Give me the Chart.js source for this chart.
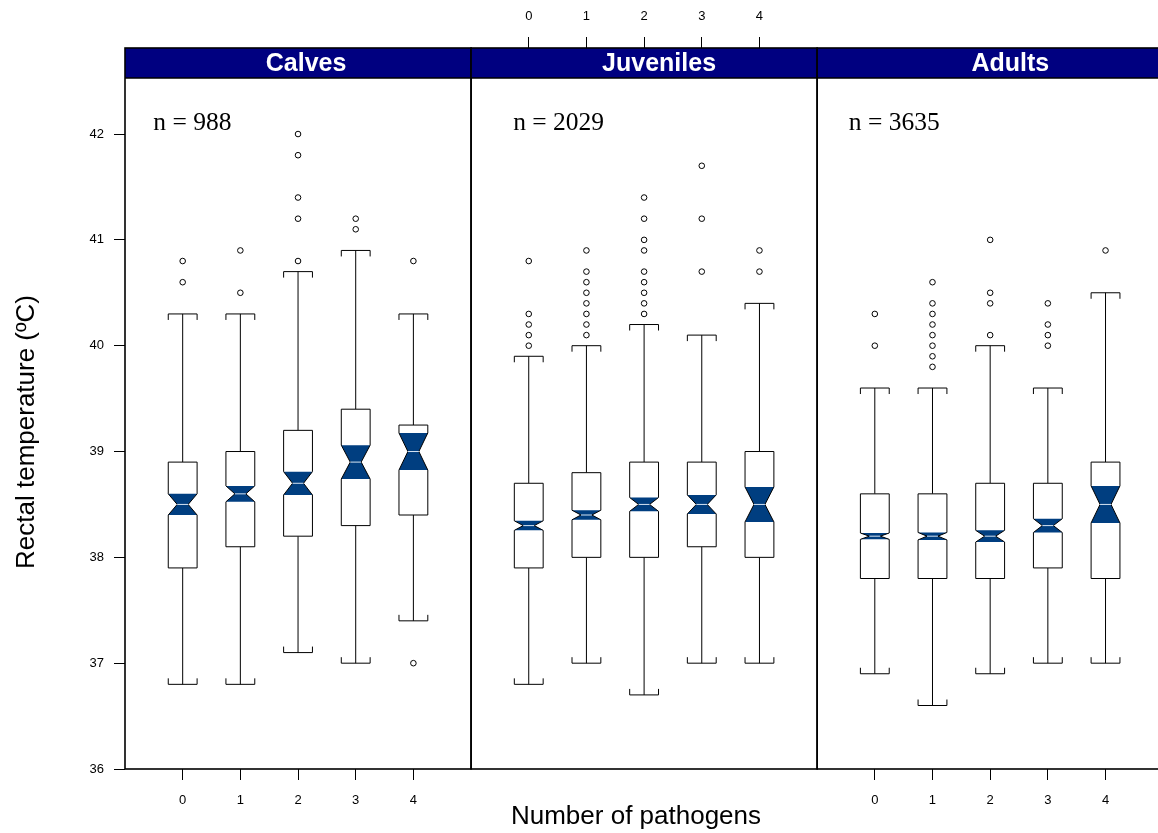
<!DOCTYPE html>
<html>
<head>
<meta charset="utf-8">
<title>Rectal temperature by number of pathogens</title>
<script src="https://cdn.jsdelivr.net/npm/chart.js@4.4.1/dist/chart.umd.min.js"></script>
<style>
  html, body { margin: 0; padding: 0; background: #fff; overflow: hidden; }
  #wrap { position: relative; width: 1167px; height: 833px; }
</style>
</head>
<body>
<div id="wrap"><canvas id="myChart" width="1167" height="833"></canvas></div>
<script>
var categories = ['0', '1', '2', '3', '4'];
var groups = ['Calves', 'Juveniles', 'Adults'];
var groupN = [988, 2029, 3635];
var yTicks = [36, 37, 38, 39, 40, 41, 42];

// rows: Calves, Juveniles, Adults; columns: number of pathogens 0..4
var whiskerLow = [
    [36.8, 36.8, 37.1, 37.0, 37.4],
    [36.8, 37.0, 36.7, 37.0, 37.0],
    [36.9, 36.6, 36.9, 37.0, 37.0]
];
var q1 = [
    [37.9, 38.1, 38.2, 38.3, 38.4],
    [37.9, 38.0, 38.0, 38.1, 38.0],
    [37.8, 37.8, 37.8, 37.9, 37.8]
];
var notchLow = [
    [38.4, 38.525, 38.59, 38.74, 38.825],
    [38.255, 38.355, 38.435, 38.41, 38.335],
    [38.17, 38.165, 38.145, 38.235, 38.325]
];
var median = [
    [38.5, 38.6, 38.7, 38.9, 39.0],
    [38.3, 38.4, 38.5, 38.5, 38.5],
    [38.2, 38.2, 38.2, 38.3, 38.5]
];
var notchHigh = [
    [38.6, 38.675, 38.81, 39.06, 39.175],
    [38.345, 38.445, 38.565, 38.59, 38.665],
    [38.23, 38.235, 38.255, 38.365, 38.675]
];
var q3 = [
    [38.9, 39.0, 39.2, 39.4, 39.25],
    [38.7, 38.8, 38.9, 38.9, 39.0],
    [38.6, 38.6, 38.7, 38.7, 38.9]
];
var whiskerHigh = [
    [40.3, 40.3, 40.7, 40.9, 40.3],
    [39.9, 40.0, 40.2, 40.1, 40.4],
    [39.6, 39.6, 40.0, 39.6, 40.5]
];
var outliers = [
    [[40.6, 40.8], [40.5, 40.9], [40.8, 41.2, 41.4, 41.8, 42.0], [41.1, 41.2], [37.0, 40.8]],
    [[40.0, 40.1, 40.2, 40.3, 40.8], [40.1, 40.2, 40.3, 40.4, 40.5, 40.6, 40.7, 40.9],
     [40.3, 40.4, 40.5, 40.6, 40.7, 40.9, 41.0, 41.2, 41.4], [40.7, 41.2, 41.7], [40.7, 40.9]],
    [[40.0, 40.3], [39.8, 39.9, 40.0, 40.1, 40.2, 40.3, 40.4, 40.6], [40.1, 40.4, 40.5, 41.0],
     [40.0, 40.1, 40.2, 40.4], [40.9]]
];

// each panel takes 6 units on the shared x axis: -1..5, 5..11, 11..17
var PANEL = 6;
var NOTCH_COL = '#003e80';
var STRIP_COL = '#000080';

var points = [];
for (var g = 0; g < groups.length; g++) {
    for (var i = 0; i < categories.length; i++) {
        for (var k = 0; k < outliers[g][i].length; k++) {
            points.push({ x: g * PANEL + i, y: outliers[g][i][k] });
        }
    }
}

function tickValues(panelList) {
    var out = [];
    panelList.forEach(function (g) {
        for (var i = 0; i < categories.length; i++) out.push({ value: g * PANEL + i });
    });
    return out;
}

function boxPath(ctx, L, R, inset, b1, nLo, med, nHi, b3) {
    ctx.beginPath();
    ctx.moveTo(L, b3); ctx.lineTo(R, b3); ctx.lineTo(R, nHi);
    ctx.lineTo(R - inset, med); ctx.lineTo(R, nLo); ctx.lineTo(R, b1);
    ctx.lineTo(L, b1); ctx.lineTo(L, nLo); ctx.lineTo(L + inset, med);
    ctx.lineTo(L, nHi); ctx.closePath();
}

function drawBox(ctx, xs, ys, g, i) {
    var cx = xs.getPixelForValue(g * PANEL + i);
    var half = xs.getPixelForValue(g * PANEL + i + 0.25) - cx;
    var inset = half * 0.62;
    var L = cx - half, R = cx + half;
    var lo = ys.getPixelForValue(whiskerLow[g][i]);
    var b1 = ys.getPixelForValue(q1[g][i]);
    var nLo = ys.getPixelForValue(notchLow[g][i]);
    var med = ys.getPixelForValue(median[g][i]);
    var nHi = ys.getPixelForValue(notchHigh[g][i]);
    var b3 = ys.getPixelForValue(q3[g][i]);
    var hi = ys.getPixelForValue(whiskerHigh[g][i]);

    ctx.strokeStyle = '#000';
    ctx.lineWidth = 1;

    // whiskers and bracket caps
    ctx.beginPath();
    ctx.moveTo(cx, b3); ctx.lineTo(cx, hi);
    ctx.moveTo(cx, b1); ctx.lineTo(cx, lo);
    ctx.moveTo(L, hi + 6); ctx.lineTo(L, hi); ctx.lineTo(R, hi); ctx.lineTo(R, hi + 6);
    ctx.moveTo(L, lo - 6); ctx.lineTo(L, lo); ctx.lineTo(R, lo); ctx.lineTo(R, lo - 6);
    ctx.stroke();

    boxPath(ctx, L, R, inset, b1, nLo, med, nHi, b3);
    ctx.fillStyle = '#fff';
    ctx.fill();

    // shaded notch
    ctx.beginPath();
    ctx.moveTo(L, nHi); ctx.lineTo(R, nHi); ctx.lineTo(R - inset, med);
    ctx.lineTo(R, nLo); ctx.lineTo(L, nLo); ctx.lineTo(L + inset, med);
    ctx.closePath();
    ctx.fillStyle = NOTCH_COL;
    ctx.fill();

    boxPath(ctx, L, R, inset, b1, nLo, med, nHi, b3);
    ctx.stroke();

    // median
    ctx.beginPath();
    ctx.strokeStyle = '#d6e4f2';
    ctx.moveTo(L + inset, med); ctx.lineTo(R - inset, med);
    ctx.stroke();
}

var panelPlugin = {
    id: 'panels',
    beforeDatasetsDraw: function (chart) {
        var ctx = chart.ctx, xs = chart.scales.x, ys = chart.scales.y;
        ctx.save();
        for (var g = 0; g < groups.length; g++) {
            for (var i = 0; i < categories.length; i++) drawBox(ctx, xs, ys, g, i);
        }
        ctx.restore();
    },
    afterDatasetsDraw: function (chart) {
        var ctx = chart.ctx, xs = chart.scales.x, ys = chart.scales.y, area = chart.chartArea;
        var stripH = 30;
        ctx.save();
        for (var g = 0; g < groups.length; g++) {
            var left = xs.getPixelForValue(g * PANEL - 1);
            var right = xs.getPixelForValue(g * PANEL + 5);

            ctx.fillStyle = STRIP_COL;
            ctx.fillRect(left, area.top, right - left, stripH);
            ctx.strokeStyle = '#000';
            ctx.lineWidth = 1.6;
            ctx.strokeRect(left, area.top, right - left, area.bottom - area.top);
            ctx.beginPath();
            ctx.moveTo(left, area.top + stripH); ctx.lineTo(right, area.top + stripH);
            ctx.stroke();

            ctx.fillStyle = '#fff';
            ctx.font = 'bold 25px "Liberation Sans", Arial, sans-serif';
            ctx.textAlign = 'center';
            ctx.textBaseline = 'middle';
            ctx.fillText(groups[g], xs.getPixelForValue(g * PANEL + 2 + [0.14, 0.26, 0.35][g]), area.top + stripH / 2 + 1);

            ctx.fillStyle = '#000';
            ctx.font = '25.5px "Liberation Serif", "Times New Roman", serif';
            ctx.textAlign = 'left';
            ctx.fillText('n = ' + groupN[g], xs.getPixelForValue(g * PANEL + [-0.51, -0.27, -0.45][g]), ys.getPixelForValue(42.1));
        }

        // axis titles
        ctx.fillStyle = '#000';
        ctx.font = '26px "Liberation Sans", Arial, sans-serif';
        ctx.textAlign = 'center';
        ctx.textBaseline = 'middle';
        ctx.fillText('Number of pathogens', 636, 817);
        ctx.translate(27, 432);
        ctx.rotate(-Math.PI / 2);
        ctx.fillText('Rectal temperature (\u00baC)', 0, 0);
        ctx.restore();
    }
};

var tickFont = { family: '"Liberation Sans", Arial, sans-serif', size: 13 };
var tickGrid = { drawOnChartArea: false, drawTicks: true, tickLength: 11, color: '#000', lineWidth: 1 };

var ctx = document.getElementById('myChart').getContext('2d');
var myChart = new Chart(ctx, {
    type: 'scatter',
    data: {
        datasets: [{
            label: 'outliers',
            data: points,
            pointRadius: 2.8,
            pointHoverRadius: 2.8,
            pointBackgroundColor: 'rgba(255,255,255,0)',
            pointBorderColor: '#000',
            pointBorderWidth: 1
        }]
    },
    options: {
        responsive: false,
        animation: false,
        devicePixelRatio: 1,
        layout: { padding: 0 },
        plugins: { legend: { display: false }, tooltip: { enabled: false } },
        scales: {
            x: {
                type: 'linear', position: 'bottom', min: -1, max: 17,
                afterBuildTicks: function (s) { s.ticks = tickValues([0, 2]); },
                afterFit: function (s) { s.height = 64; },
                ticks: { font: tickFont, color: '#000', padding: 13, maxRotation: 0,
                    callback: function (v) { return categories[v % PANEL]; } },
                grid: tickGrid,
                border: { display: false }
            },
            xTop: {
                type: 'linear', axis: 'x', position: 'top', min: -1, max: 17,
                afterBuildTicks: function (s) { s.ticks = tickValues([1]); },
                afterFit: function (s) { s.height = 48; },
                ticks: { font: tickFont, color: '#000', padding: 13, maxRotation: 0,
                    callback: function (v) { return categories[v % PANEL]; } },
                grid: tickGrid,
                border: { display: false }
            },
            y: {
                min: 36, max: 42.813,
                afterBuildTicks: function (s) { s.ticks = yTicks.map(function (v) { return { value: v }; }); },
                afterFit: function (s) { s.width = 125; },
                ticks: { font: tickFont, color: '#000', padding: 10 },
                grid: tickGrid,
                border: { display: false }
            }
        }
    },
    plugins: [panelPlugin]
});
</script>
</body>
</html>
